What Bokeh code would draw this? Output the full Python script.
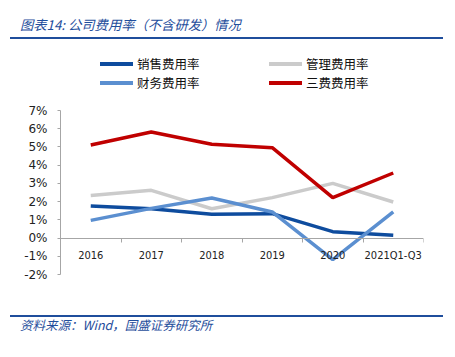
from bokeh.plotting import figure
from bokeh.models import Range1d, FixedTicker, LinearAxis, PrintfTickFormatter, Div
from bokeh.layouts import column
from bokeh.embed import file_html
from bokeh.resources import INLINE

categories = ["2016", "2017", "2018", "2019", "2020", "2021Q1-Q3"]
sales = [1.76, 1.61, 1.30, 1.34, 0.35, 0.15]
admin = [2.34, 2.62, 1.61, 2.22, 3.00, 1.98]
finance = [0.97, 1.63, 2.20, 1.43, -1.19, 1.43]
total = [5.11, 5.82, 5.15, 4.96, 2.22, 3.57]
y_ticks = [-2, -1, 0, 1, 2, 3, 4, 5, 6, 7]

series_names = ["销售费用率", "管理费用率", "财务费用率", "三费费用率"]
colors = ["#0E4C9E", "#CBCBCB", "#5B8FD0", "#C00000"]
title_text = "图表14: 公司费用率（不含研发）情况"
source_text = "资料来源：Wind，国盛证券研究所"
blue = "#1F4E9C"
CJK = "'Noto Sans CJK SC'"

W = 455

# ---- title ----
title_div = Div(width=W, height=40, margin=0, text=f"""
<div style="position:relative;width:{W}px;height:40px;overflow:hidden;">
  <div style="position:absolute;left:20px;top:17px;font-family:{CJK};font-style:italic;
       font-size:13.3px;line-height:16px;color:{blue};white-space:nowrap;">{title_text}</div>
  <div style="position:absolute;left:10px;top:37px;width:433px;height:2px;background:{blue};"></div>
</div>""")

# ---- legend ----
leg_pos = [(100, 24), (269, 24), (100, 43), (269, 43)]
items = ""
for (lx, ly), name, col in zip(leg_pos, series_names, colors):
    items += (f'<div style="position:absolute;left:{lx}px;top:{ly-2}px;width:33px;height:4px;'
              f'background:{col};"></div>'
              f'<div style="position:absolute;left:{lx+37}px;top:{ly-8}px;font-family:{CJK};'
              f'font-size:12.5px;line-height:16px;color:#111;white-space:nowrap;">{name}</div>')
legend_div = Div(width=W, height=62, margin=0,
                 text=f'<div style="position:relative;width:{W}px;height:62px;">{items}</div>')

# ---- chart ----
p = figure(width=W, height=213, output_backend="svg", toolbar_location=None,
           x_range=Range1d(0, len(categories)), y_range=Range1d(-2, 7),
           min_border_left=60, min_border_right=32, min_border_top=8,
           min_border_bottom=41, x_axis_location=None, y_axis_location=None, margin=0)
p.outline_line_color = None
p.grid.grid_line_color = None

xs = [i + 0.5 for i in range(len(categories))]
for vals, col in [(admin, colors[1]), (total, colors[3]), (sales, colors[0]), (finance, colors[2])]:
    p.line(xs, vals, line_color=col, line_width=3.5)

yaxis = LinearAxis(ticker=FixedTicker(ticks=y_ticks),
                   formatter=PrintfTickFormatter(format="%d%%"))
yaxis.axis_line_color = "#A6A6A6"
yaxis.major_tick_line_color = "#A6A6A6"
yaxis.major_tick_out = 3
yaxis.major_tick_in = 0
yaxis.minor_tick_line_color = None
yaxis.major_label_text_font = "DejaVu Sans"
yaxis.major_label_text_font_size = "12px"
yaxis.major_label_text_color = "#222222"
yaxis.major_label_standoff = 10
p.add_layout(yaxis, "left")

xaxis = LinearAxis(ticker=FixedTicker(ticks=list(range(len(categories) + 1))),
                   fixed_location=0)
xaxis.axis_line_color = "#A6A6A6"
xaxis.major_tick_line_color = "#A6A6A6"
xaxis.major_tick_out = 4
xaxis.major_tick_in = 0
xaxis.minor_tick_line_color = None
xaxis.major_label_overrides = {i: "" for i in range(len(categories) + 1)}
p.add_layout(xaxis, "below")

xlab = LinearAxis(ticker=FixedTicker(ticks=xs), fixed_location=0,
                  major_label_overrides={x: c for x, c in zip(xs, categories)})
xlab.axis_line_color = None
xlab.major_tick_line_color = None
xlab.minor_tick_line_color = None
xlab.major_label_text_font = "DejaVu Sans Condensed"
xlab.major_label_text_font_size = "11px"
xlab.major_label_text_color = "#222222"
xlab.major_label_standoff = 5
p.add_layout(xlab, "below")

# ---- footer ----
footer_div = Div(width=W, height=42, margin=0, text=f"""
<div style="position:relative;width:{W}px;height:42px;overflow:hidden;">
  <div style="position:absolute;left:10px;top:0px;width:433px;height:2px;background:{blue};"></div>
  <div style="position:absolute;left:20px;top:2px;font-family:{CJK};font-style:italic;
       font-size:12.5px;line-height:16px;color:{blue};white-space:nowrap;">{source_text}</div>
</div>""")

layout = column(title_div, legend_div, p, footer_div, spacing=0, margin=0)
open("out.html", "w").write(file_html(layout, INLINE))
